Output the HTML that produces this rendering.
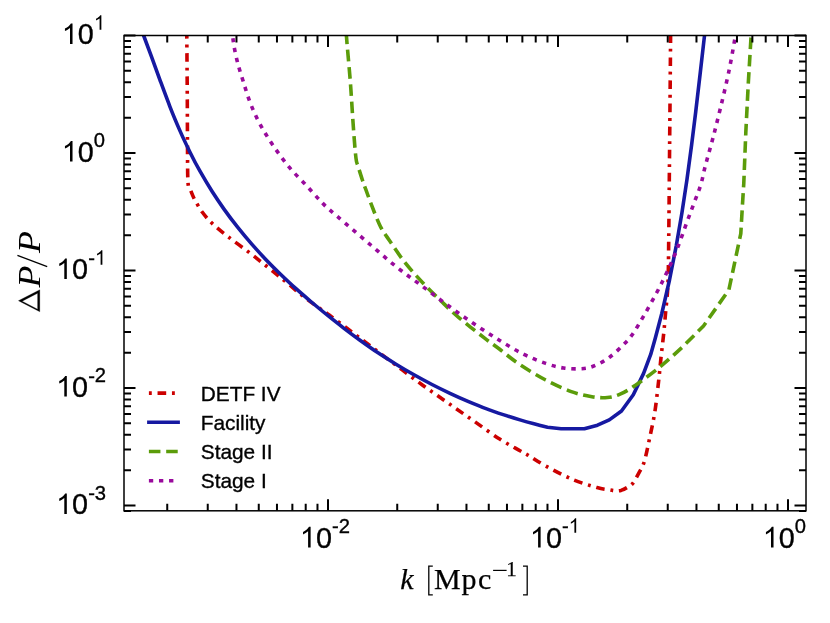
<!DOCTYPE html>
<html><head><meta charset="utf-8"><title>Delta P / P</title>
<style>html,body{margin:0;padding:0;background:#fff;}body{width:830px;height:623px;overflow:hidden;position:relative;font-family:"Liberation Sans",sans-serif;}</style></head>
<body>
<svg width="830" height="623" viewBox="0 0 830 623" style="position:absolute;left:0;top:0">
<defs><clipPath id="ax"><rect x="124.0" y="35.5" width="682.0" height="475.3"/></clipPath></defs>
<rect width="830" height="623" fill="#fff"/>
<g clip-path="url(#ax)" fill="none" stroke-width="3.60" stroke-linejoin="round">
<path d="M186.5,20.0 C186.6,22.6 186.7,22.3 186.8,35.6 C186.9,48.9 187.2,81.6 187.3,100.0 C187.4,118.4 187.4,132.2 187.5,146.0 C187.6,159.8 187.5,175.2 188.0,182.6 C188.5,190.0 189.5,187.5 190.6,190.3 C191.7,193.1 192.6,195.7 194.5,199.3 C196.4,202.9 199.2,207.9 202.2,212.0 C205.2,216.1 208.1,219.5 212.4,223.6 C216.7,227.7 221.8,231.8 227.8,236.5 C233.8,241.2 242.0,247.0 248.4,251.9 C254.8,256.8 260.3,261.2 266.3,266.0 C272.3,270.8 278.7,275.9 284.3,280.5 C289.9,285.1 294.8,289.5 299.7,293.5 C304.6,297.5 309.1,300.8 314.0,304.4 C318.9,308.0 323.1,310.5 329.2,315.0 C335.3,319.5 343.8,325.9 350.8,331.2 C357.8,336.5 363.6,340.8 371.3,346.6 C379.0,352.4 388.4,359.6 397.0,366.0 C405.6,372.4 414.1,379.0 422.7,385.2 C431.3,391.4 439.8,397.2 448.4,403.2 C456.9,409.2 465.4,415.1 474.0,421.1 C482.6,427.1 492.0,434.2 499.7,439.1 C507.4,444.0 515.1,447.9 520.0,450.7 C524.9,453.5 524.9,453.2 529.2,455.8 C533.5,458.4 538.7,462.1 545.7,466.0 C552.7,469.9 562.8,475.3 571.3,478.9 C579.8,482.5 590.6,485.8 597.0,487.6 C603.4,489.5 606.7,489.4 609.9,490.0 C613.1,490.6 614.1,490.8 616.0,490.9 C617.9,491.0 619.2,490.9 621.0,490.4 C622.8,489.8 625.0,488.8 627.0,487.6 C629.0,486.4 630.8,485.9 632.8,483.3 C634.8,480.8 637.2,476.0 639.2,472.3 C641.2,468.6 642.8,466.6 644.5,460.9 C646.2,455.1 648.0,445.9 649.7,437.8 C651.4,429.7 653.3,421.6 654.8,412.2 C656.3,402.8 657.5,390.7 658.6,381.3 C659.7,371.9 660.3,363.8 661.2,355.7 C662.1,347.6 663.1,339.6 663.8,332.6 C664.5,325.6 664.8,321.8 665.5,313.5 C666.2,305.2 667.5,296.4 668.0,282.7 C668.5,269.0 668.6,248.4 668.8,231.3 C669.0,214.2 669.0,212.6 669.3,180.0 C669.6,147.4 670.4,62.3 670.6,35.6 C670.8,8.9 670.7,22.6 670.7,20.0" stroke="#CC0000" stroke-dasharray="2.88,5.76,8.65,5.76" stroke-dashoffset="21.5"/>
<path d="M140.0,26.0 C140.6,27.7 141.9,31.0 143.8,36.0 C145.7,41.0 148.6,48.9 151.3,56.2 C154.0,63.6 156.9,71.7 160.0,80.1 C163.1,88.5 166.7,98.3 170.0,106.8 C173.3,115.3 176.7,123.3 180.0,130.9 C183.3,138.5 186.7,145.5 190.0,152.2 C193.3,158.9 196.3,164.7 200.0,171.2 C203.7,177.7 208.0,185.0 212.0,191.3 C216.0,197.6 219.7,203.0 224.0,209.1 C228.3,215.2 233.3,221.8 238.0,227.7 C242.7,233.6 247.3,239.1 252.0,244.4 C256.7,249.7 261.3,254.8 266.0,259.7 C270.7,264.6 275.0,268.9 280.0,273.7 C285.0,278.5 290.7,283.9 296.0,288.7 C301.3,293.5 306.7,298.0 312.0,302.5 C317.3,307.0 322.7,311.4 328.0,315.7 C333.3,320.0 338.7,324.2 344.0,328.3 C349.3,332.4 354.3,336.1 360.0,340.2 C365.7,344.3 372.0,348.8 378.0,352.8 C384.0,356.8 390.0,360.5 396.0,364.2 C402.0,367.9 408.0,371.4 414.0,374.8 C420.0,378.2 426.0,381.4 432.0,384.5 C438.0,387.6 444.0,390.5 450.0,393.3 C456.0,396.1 462.0,398.8 468.0,401.4 C474.0,403.9 480.0,406.4 486.0,408.6 C492.0,410.9 498.3,413.0 504.0,414.9 C509.7,416.8 515.0,418.4 520.0,419.9 C525.0,421.4 529.4,422.6 534.0,423.8 C538.6,425.0 547.5,427.3 547.5,427.3 L561.1,428.7 L584.4,428.7 L597.5,425.2 L609.3,419.9 L621.5,411.0 L633.3,394.8 L643.6,373.4 L650.7,354.4 L655.2,338.5 L661.8,313.5 L669.5,280.0 L676.2,246.0 L681.9,213.0 L686.9,180.0 L691.6,145.0 L695.7,112.0 L700.0,75.0 L704.5,35.6 L705.7,26.0" stroke="#1619A1" stroke-linecap="square"/>
<path d="M346.0,20.0 C346.1,22.6 345.7,25.4 346.4,35.6 C347.1,45.8 349.1,66.0 350.3,81.3 C351.5,96.6 352.4,114.8 353.4,127.6 C354.3,140.4 355.2,152.0 356.0,158.4 C356.8,164.8 356.9,162.4 358.0,166.0 C359.1,169.6 361.1,176.1 362.4,180.0 C363.7,183.9 364.2,185.1 365.7,189.2 C367.2,193.3 368.9,198.2 371.3,204.4 C373.7,210.6 377.3,220.2 380.3,226.2 C383.3,232.2 385.2,234.3 389.3,240.3 C393.4,246.3 399.1,255.1 404.7,262.2 C410.3,269.3 416.7,276.3 422.7,282.7 C428.7,289.1 434.7,294.9 440.7,300.7 C446.7,306.5 451.3,311.2 458.6,317.4 C465.9,323.6 477.5,332.6 484.3,337.9 C491.1,343.2 493.8,344.8 499.7,349.3 C505.6,353.8 512.3,359.6 520.0,364.7 C527.7,369.8 537.2,375.5 545.7,380.0 C554.2,384.5 563.6,388.8 571.3,391.6 C579.0,394.4 585.9,395.7 591.9,396.7 C597.9,397.7 602.6,397.9 607.3,397.5 C612.0,397.1 615.4,396.2 620.1,394.2 C624.8,392.1 628.6,389.9 635.5,385.2 C642.4,380.5 653.4,372.3 661.2,365.9 C669.0,359.5 682.5,347.0 682.5,347.0 L703.5,326.0 L728.9,289.8 L740.8,233.6 L742.4,205.7 L743.8,183.0 L745.8,132.7 L748.4,81.3 L751.0,37.7 L751.4,20.0" stroke="#5B9C0A" stroke-dasharray="11.53,5.76" stroke-dashoffset="4.6"/>
<path d="M232.0,20.0 C232.2,23.2 232.2,32.4 233.0,39.0 C233.8,45.6 235.1,52.5 236.8,59.5 C238.5,66.5 240.8,73.8 243.2,81.3 C245.5,88.8 247.9,97.0 250.9,104.5 C253.9,112.0 257.3,119.2 261.2,126.3 C265.1,133.3 269.3,140.0 274.0,146.8 C278.7,153.7 284.1,161.0 289.4,167.4 C294.7,173.8 300.9,179.5 306.0,185.0 C311.1,190.5 316.1,196.4 320.0,200.5 C323.9,204.6 324.9,205.7 329.2,209.5 C333.5,213.3 338.7,217.6 345.7,223.6 C352.7,229.6 362.8,238.2 371.3,245.5 C379.9,252.8 388.4,260.5 397.0,267.3 C405.6,274.1 414.1,280.1 422.7,286.5 C431.3,292.9 439.8,299.6 448.4,305.8 C456.9,312.0 465.4,318.0 474.0,323.8 C482.6,329.6 491.4,335.4 499.7,340.5 C508.0,345.6 516.2,350.6 523.9,354.4 C531.6,358.2 539.1,361.1 545.7,363.4 C552.3,365.7 557.2,367.1 563.6,368.0 C570.0,368.9 578.6,369.1 584.2,368.5 C589.8,367.9 592.7,366.6 597.0,364.7 C601.3,362.8 605.6,360.2 609.9,357.0 C614.2,353.8 619.0,349.1 622.7,345.4 C626.4,341.7 628.5,339.9 632.0,335.0 C635.5,330.1 639.5,323.1 643.6,316.1 C647.7,309.1 652.6,300.3 656.5,293.0 C660.4,285.7 663.4,279.7 666.8,272.4 C670.2,265.1 673.6,257.9 677.0,249.3 C680.4,240.8 684.3,229.2 687.3,221.1 C690.3,213.0 692.7,206.7 695.0,200.5 C697.3,194.3 699.3,189.8 701.0,184.0 C702.7,178.2 703.3,173.7 705.3,166.0 C707.3,158.3 710.4,147.6 713.0,137.8 C715.6,128.0 718.1,117.7 720.7,107.0 C723.3,96.3 726.0,84.9 728.4,73.6 C730.8,62.3 733.3,47.9 734.8,39.0 C736.3,30.1 737.0,23.2 737.5,20.0" stroke="#990A9C" stroke-dasharray="4.32,5.76" stroke-dashoffset="2.0"/>
</g>
<path d="M167.24,510.80 v-7.00 M167.24,35.50 v7.00 M207.74,510.80 v-7.00 M207.74,35.50 v7.00 M236.47,510.80 v-7.00 M236.47,35.50 v7.00 M258.76,510.80 v-7.00 M258.76,35.50 v7.00 M276.97,510.80 v-7.00 M276.97,35.50 v7.00 M292.37,510.80 v-7.00 M292.37,35.50 v7.00 M305.71,510.80 v-7.00 M305.71,35.50 v7.00 M317.48,510.80 v-7.00 M317.48,35.50 v7.00 M328.00,510.80 v-11.50 M328.00,35.50 v11.50 M397.24,510.80 v-7.00 M397.24,35.50 v7.00 M437.74,510.80 v-7.00 M437.74,35.50 v7.00 M466.47,510.80 v-7.00 M466.47,35.50 v7.00 M488.76,510.80 v-7.00 M488.76,35.50 v7.00 M506.97,510.80 v-7.00 M506.97,35.50 v7.00 M522.37,510.80 v-7.00 M522.37,35.50 v7.00 M535.71,510.80 v-7.00 M535.71,35.50 v7.00 M547.48,510.80 v-7.00 M547.48,35.50 v7.00 M558.00,510.80 v-11.50 M558.00,35.50 v11.50 M627.24,510.80 v-7.00 M627.24,35.50 v7.00 M667.74,510.80 v-7.00 M667.74,35.50 v7.00 M696.47,510.80 v-7.00 M696.47,35.50 v7.00 M718.76,510.80 v-7.00 M718.76,35.50 v7.00 M736.97,510.80 v-7.00 M736.97,35.50 v7.00 M752.37,510.80 v-7.00 M752.37,35.50 v7.00 M765.71,510.80 v-7.00 M765.71,35.50 v7.00 M777.48,510.80 v-7.00 M777.48,35.50 v7.00 M788.00,510.80 v-11.50 M788.00,35.50 v11.50 M124.00,510.88 h7.00 M806.00,510.88 h-7.00 M124.00,505.50 h11.50 M806.00,505.50 h-11.50 M124.00,470.13 h7.00 M806.00,470.13 h-7.00 M124.00,449.44 h7.00 M806.00,449.44 h-7.00 M124.00,434.76 h7.00 M806.00,434.76 h-7.00 M124.00,423.37 h7.00 M806.00,423.37 h-7.00 M124.00,414.07 h7.00 M806.00,414.07 h-7.00 M124.00,406.20 h7.00 M806.00,406.20 h-7.00 M124.00,399.39 h7.00 M806.00,399.39 h-7.00 M124.00,393.38 h7.00 M806.00,393.38 h-7.00 M124.00,388.00 h11.50 M806.00,388.00 h-11.50 M124.00,352.63 h7.00 M806.00,352.63 h-7.00 M124.00,331.94 h7.00 M806.00,331.94 h-7.00 M124.00,317.26 h7.00 M806.00,317.26 h-7.00 M124.00,305.87 h7.00 M806.00,305.87 h-7.00 M124.00,296.57 h7.00 M806.00,296.57 h-7.00 M124.00,288.70 h7.00 M806.00,288.70 h-7.00 M124.00,281.89 h7.00 M806.00,281.89 h-7.00 M124.00,275.88 h7.00 M806.00,275.88 h-7.00 M124.00,270.50 h11.50 M806.00,270.50 h-11.50 M124.00,235.13 h7.00 M806.00,235.13 h-7.00 M124.00,214.44 h7.00 M806.00,214.44 h-7.00 M124.00,199.76 h7.00 M806.00,199.76 h-7.00 M124.00,188.37 h7.00 M806.00,188.37 h-7.00 M124.00,179.07 h7.00 M806.00,179.07 h-7.00 M124.00,171.20 h7.00 M806.00,171.20 h-7.00 M124.00,164.39 h7.00 M806.00,164.39 h-7.00 M124.00,158.38 h7.00 M806.00,158.38 h-7.00 M124.00,153.00 h11.50 M806.00,153.00 h-11.50 M124.00,117.63 h7.00 M806.00,117.63 h-7.00 M124.00,96.94 h7.00 M806.00,96.94 h-7.00 M124.00,82.26 h7.00 M806.00,82.26 h-7.00 M124.00,70.87 h7.00 M806.00,70.87 h-7.00 M124.00,61.57 h7.00 M806.00,61.57 h-7.00 M124.00,53.70 h7.00 M806.00,53.70 h-7.00 M124.00,46.89 h7.00 M806.00,46.89 h-7.00 M124.00,40.88 h7.00 M806.00,40.88 h-7.00 M124.00,35.50 h11.50 M806.00,35.50 h-11.50" stroke="#000" stroke-width="2.00" fill="none"/>
<rect x="124.0" y="35.5" width="682.0" height="475.3" fill="none" stroke="#000" stroke-width="1.5"/>
<g font-family="'Liberation Sans', sans-serif" fill="#000" stroke="#000" stroke-width="0.35" opacity="0.999">
<path transform="translate(61.80,44.10) scale(0.01406,-0.01406)" d="M763 0H583V1147Q518 1085 412.5 1023T223 930V1104Q374 1175 487 1276T647 1472H763Z"/><text x="77.82" y="44.10" font-size="28.8">0</text><path transform="translate(93.84,29.70) scale(0.00986,-0.00986)" d="M763 0H583V1147Q518 1085 412.5 1023T223 930V1104Q374 1175 487 1276T647 1472H763Z"/>
<path transform="translate(61.80,161.60) scale(0.01406,-0.01406)" d="M763 0H583V1147Q518 1085 412.5 1023T223 930V1104Q374 1175 487 1276T647 1472H763Z"/><text x="77.82" y="161.60" font-size="28.8">0</text><text x="93.84" y="147.20" font-size="20.2">0</text>
<path transform="translate(56.10,279.10) scale(0.01406,-0.01406)" d="M763 0H583V1147Q518 1085 412.5 1023T223 930V1104Q374 1175 487 1276T647 1472H763Z"/><text x="72.12" y="279.10" font-size="28.8">0</text><text x="88.14" y="265.30" font-size="20.2">-</text><path transform="translate(94.86,264.70) scale(0.00986,-0.00986)" d="M763 0H583V1147Q518 1085 412.5 1023T223 930V1104Q374 1175 487 1276T647 1472H763Z"/>
<path transform="translate(56.10,396.60) scale(0.01406,-0.01406)" d="M763 0H583V1147Q518 1085 412.5 1023T223 930V1104Q374 1175 487 1276T647 1472H763Z"/><text x="72.12" y="396.60" font-size="28.8">0</text><text x="88.14" y="382.80" font-size="20.2">-</text><text x="94.86" y="382.20" font-size="20.2">2</text>
<path transform="translate(56.10,514.10) scale(0.01406,-0.01406)" d="M763 0H583V1147Q518 1085 412.5 1023T223 930V1104Q374 1175 487 1276T647 1472H763Z"/><text x="72.12" y="514.10" font-size="28.8">0</text><text x="88.14" y="500.30" font-size="20.2">-</text><text x="94.86" y="499.70" font-size="20.2">3</text>
<path transform="translate(299.90,547.50) scale(0.01406,-0.01406)" d="M763 0H583V1147Q518 1085 412.5 1023T223 930V1104Q374 1175 487 1276T647 1472H763Z"/><text x="315.92" y="547.50" font-size="28.8">0</text><text x="331.94" y="533.40" font-size="20.2">-</text><text x="338.66" y="532.80" font-size="20.2">2</text>
<path transform="translate(529.90,547.50) scale(0.01406,-0.01406)" d="M763 0H583V1147Q518 1085 412.5 1023T223 930V1104Q374 1175 487 1276T647 1472H763Z"/><text x="545.92" y="547.50" font-size="28.8">0</text><text x="561.94" y="533.40" font-size="20.2">-</text><path transform="translate(568.66,532.80) scale(0.00986,-0.00986)" d="M763 0H583V1147Q518 1085 412.5 1023T223 930V1104Q374 1175 487 1276T647 1472H763Z"/>
<path transform="translate(762.80,547.50) scale(0.01406,-0.01406)" d="M763 0H583V1147Q518 1085 412.5 1023T223 930V1104Q374 1175 487 1276T647 1472H763Z"/><text x="778.82" y="547.50" font-size="28.8">0</text><text x="794.84" y="532.80" font-size="20.2">0</text>
<text x="200.8" y="400.6" font-size="20.8">DETF IV</text>
<text x="200.8" y="429.6" font-size="20.8">Facility</text>
<text x="200.8" y="458.6" font-size="20.8">Stage II</text>
<text x="200.8" y="487.6" font-size="20.8">Stage I</text>
</g>
<g fill="none" stroke-width="3.60">
<path d="M148.9,393.1 H178.1" stroke="#CC0000" stroke-dasharray="2.88,5.76,8.65,5.76"/>
<path d="M148.9,422.2 H178.1" stroke="#1619A1" stroke-linecap="square"/>
<path d="M148.9,451.5 H178.1" stroke="#5B9C0A" stroke-dasharray="11.53,5.76"/>
<path d="M148.9,480.8 H178.1" stroke="#990A9C" stroke-dasharray="4.32,5.76"/>
</g>
<g font-family="'Liberation Serif', serif" fill="#000" stroke="#000" stroke-width="0.25" opacity="0.999">
<text x="400.2" y="588.7" font-size="30.0" font-style="italic">k</text>
<path d="M432.8,566.2 H428.8 V594.9 H432.8" fill="none" stroke="#000" stroke-width="1.3"/>
<text x="433.9" y="588.7" font-size="30.0">M</text>
<text x="461.5" y="588.7" font-size="30.0">p</text>
<text x="478.0" y="588.7" font-size="30.0">c</text>
<rect x="493.1" y="569.8" width="13.5" height="1.2" stroke="none"/>
<text x="506.3" y="576.2" font-size="21">1</text>
<path d="M523.0,566.2 H527.2 V594.9 H523.0" fill="none" stroke="#000" stroke-width="1.3"/>
<path fill-rule="evenodd" d="M18.4,300.7 L39.8,289.7 L39.8,311.8 Z M22.2,301.2 L37.6,309.2 L37.6,293.3 Z"/>
<text transform="translate(39.5,287.4) rotate(-90) scale(1.160,1)" stroke="none" font-size="31.0" font-style="italic">P</text>
<path d="M47.2,266.6 L17.4,255.3" stroke="#000" stroke-width="1.3" fill="none"/>
<text transform="translate(39.5,252.9) rotate(-90) scale(1.160,1)" stroke="none" font-size="31.0" font-style="italic">P</text>
</g>
</svg>
</body></html>
